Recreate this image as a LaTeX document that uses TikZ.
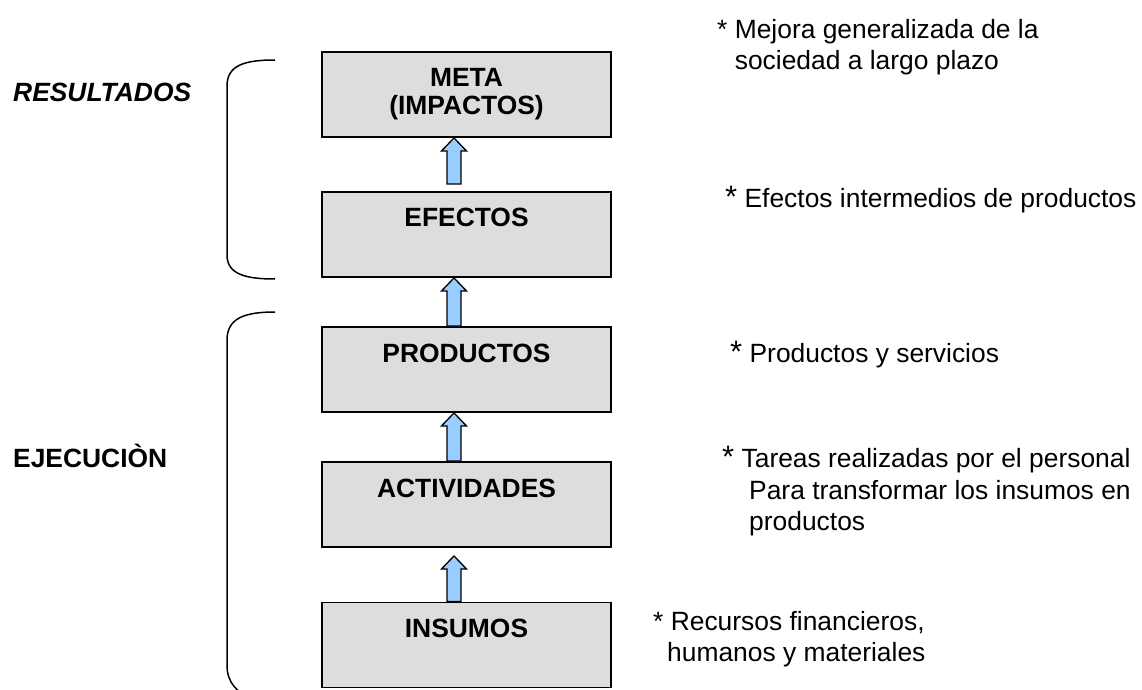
\documentclass[tikz,border=0pt]{standalone}
\usepackage{fontspec}
\setmainfont{Liberation Sans}
\usetikzlibrary{calc}
\definecolor{boxgray}{HTML}{DDDDDD}
\definecolor{arrowblue}{HTML}{99CCFF}
\newcommand\blockarr[2]{%
  \draw[blockarrow] let \p1=(#1), \p2=(#2) in
    (\x1-7pt,\y1) -- (\x1-7pt,\y2-13pt) -- (\x1-12.5pt,\y2-13pt) -- (\x1,\y2)
    -- (\x1+12.5pt,\y2-13pt) -- (\x1+7pt,\y2-13pt) -- (\x1+7pt,\y1) -- cycle;}
\newcommand\bigast{{\fontsize{31}{31}\selectfont *}}
\begin{document}
\begin{tikzpicture}[x=1pt,y=-1pt,
  box/.style={draw=black, line width=1.9pt, fill=boxgray, minimum width=289pt, minimum height=85pt, inner sep=0pt},
  boxtext/.style={font=\bfseries\fontsize{26.4}{27.5}\selectfont, align=center, inner sep=0pt},
  note/.style={font=\fontsize{26.4}{31.5}\selectfont, align=left, inner sep=0pt},
  sidelabel/.style={font=\bfseries\fontsize{26.4}{31.5}\selectfont, inner sep=0pt},
  bracket/.style={draw=black, line width=1.5pt},
  blockarrow/.style={draw=black, line width=1.3pt, fill=arrowblue, line join=miter}]
\useasboundingbox (0,0) rectangle (1142,690);
\clip (0,0) rectangle (1142,690);

% boxes
\node[box] (meta) at (466.5,94.5) {};
\node[box] (efectos) at (466.5,234.5) {};
\node[box] (productos) at (466.5,369.5) {};
\node[box] (actividades) at (466.5,504.5) {};
\node[box] (insumos) at (466.5,645) {};

% box texts
\node[boxtext, anchor=north] (tmeta) at ($(meta.north)+(0,17.1)$) {META\\(IMPACTOS)};
\node[boxtext, anchor=base] (tefectos) at ($(efectos.north)+(0,35)$) {EFECTOS};
\node[boxtext, anchor=base] (tproductos) at ($(productos.north)+(0,36)$) {PRODUCTOS};
\node[boxtext, anchor=base] (tactividades) at ($(actividades.north)+(0,36)$) {ACTIVIDADES};
\node[boxtext, anchor=base] (tinsumos) at ($(insumos.north)+(0,36)$) {INSUMOS};

% arrows
\coordinate (a1s) at ($(efectos.north)+(-12.5,-7)$);
\coordinate (a1t) at ($(meta.south)+(-12.5,0)$);
\coordinate (a2s) at ($(productos.north)+(-12.5,0)$);
\coordinate (a2t) at ($(efectos.south)+(-12.5,0)$);
\coordinate (a3s) at ($(actividades.north)+(-12.5,0)$);
\coordinate (a3t) at ($(productos.south)+(-12.5,0)$);
\coordinate (a4s) at ($(insumos.north)+(-12.5,0)$);
\coordinate (a4t) at ($(actividades.south)+(-12.5,8)$);
\blockarr{a1s}{a1t}
\blockarr{a2s}{a2t}
\blockarr{a3s}{a3t}
\blockarr{a4s}{a4t}

% brackets
\draw[bracket] (275,60) .. controls (245,60) and (227,65) .. (227,86)
  -- (227,255) .. controls (227,274) and (245,279) .. (275,279);
\draw[bracket] (275,312) .. controls (245,312) and (227,318) .. (227,340)
  -- (227,665) .. controls (227,684) and (238,692) .. (252,700);

% side labels
\node[sidelabel, font=\bfseries\itshape\fontsize{26.4}{31.5}\selectfont, anchor=base west] (res) at (13,102) {RESULTADOS};
\node[sidelabel, anchor=base west] (eje) at (13,467) {EJECUCIÒN};

% notes
\node[note, anchor=north west] (n1) at (717,19.1) {* Mejora generalizada de la\\\phantom{*}\ sociedad a largo plazo};
\node[note, anchor=base west] (n2) at (725,207) {\bigast\ Efectos intermedios de productos};
\node[note, anchor=base west] (n3) at (730,362) {\bigast\ Productos y servicios};
\node[note, anchor=north west] (n4) at (722,446) {\bigast\ Tareas realizadas por el personal\\\hspace*{27pt}Para transformar los insumos en\\\hspace*{27pt}productos};
\node[note, anchor=north west] (n5) at (653,611.1) {* Recursos financieros,\\\hspace*{14pt}humanos y materiales};
\end{tikzpicture}
\end{document}
